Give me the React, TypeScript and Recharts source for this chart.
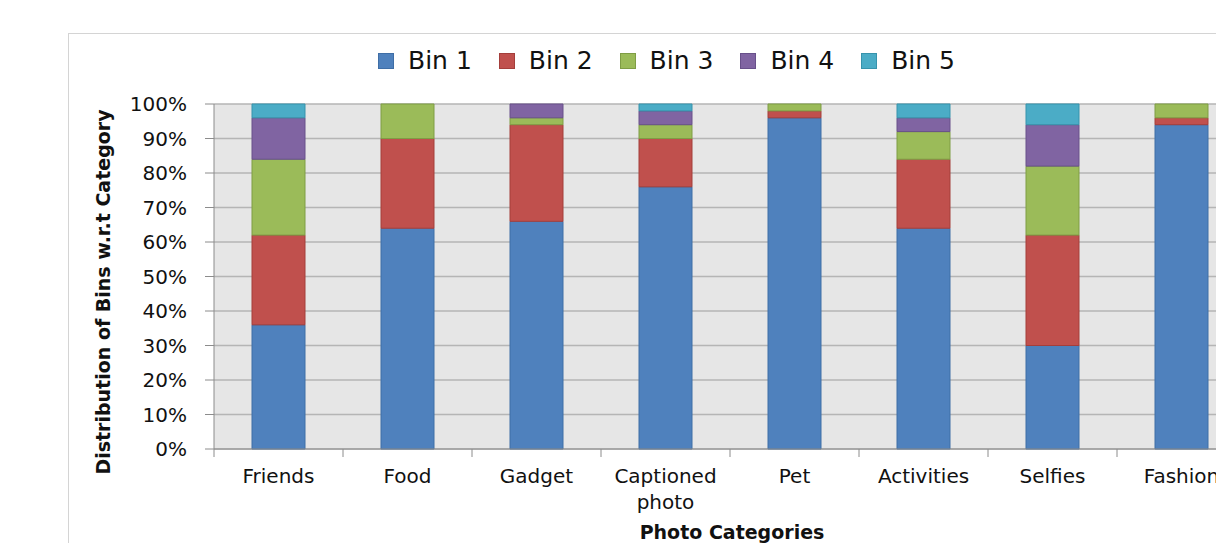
import { BarChart, Bar, XAxis, YAxis, CartesianGrid, Label } from 'recharts'

const categories = ['Friends', 'Food', 'Gadget', 'Captioned photo', 'Pet', 'Activities', 'Selfies', 'Fashion']
const bin1 = [36, 64, 66, 76, 96, 64, 30, 94]
const bin2 = [26, 26, 28, 14, 2, 20, 32, 2]
const bin3 = [22, 10, 2, 4, 2, 8, 20, 4]
const bin4 = [12, 0, 4, 4, 0, 4, 12, 0]
const bin5 = [4, 0, 0, 2, 0, 4, 6, 0]
const yTicks = [0, 10, 20, 30, 40, 50, 60, 70, 80, 90, 100]

const series = [
  { key: 'bin1', name: 'Bin 1', values: bin1, fill: '#4f81bd', stroke: '#3f6ea6' },
  { key: 'bin2', name: 'Bin 2', values: bin2, fill: '#c0504d', stroke: '#a43e3b' },
  { key: 'bin3', name: 'Bin 3', values: bin3, fill: '#9bbb59', stroke: '#7f9d45' },
  { key: 'bin4', name: 'Bin 4', values: bin4, fill: '#8064a2', stroke: '#68508a' },
  { key: 'bin5', name: 'Bin 5', values: bin5, fill: '#4bacc6', stroke: '#3793ac' },
]

const data = categories.map((cat, i) => {
  const row: Record<string, string | number> = { cat }
  series.forEach((s) => {
    row[s.key] = s.values[i]
  })
  return row
})

// chart box, wider than the page so the last category runs off the edge
const W = 1300
const H = 600
const PLOT_LEFT = 214
const PLOT_RIGHT = 1246
const PLOT_TOP = 104
const PLOT_BOTTOM = 449
const Y_AXIS_W = 120
const X_AXIS_H = 60
const BAND = (PLOT_RIGHT - PLOT_LEFT) / categories.length

const FONT = '"DejaVu Sans", sans-serif'
const AXIS_GRAY = '#8c8c8c'

// long category names go on two lines
function splitLabel(label: string): string[] {
  return label.length > 12 ? label.split(' ') : [label]
}

function CategoryTick(props: any) {
  const { x, y, payload } = props
  const edge = x - BAND / 2
  const lines = splitLabel(String(payload.value))
  return (
    <g>
      <line x1={edge} x2={edge} y1={y} y2={y + 8} stroke={AXIS_GRAY} strokeWidth={1} />
      <text x={x} y={y + 34} textAnchor="middle" fontSize={20} fontFamily={FONT} fill="#111">
        {lines.map((ln, i) => (
          <tspan key={ln} x={x} dy={i === 0 ? 0 : 26}>
            {ln}
          </tspan>
        ))}
      </text>
    </g>
  )
}

function BinLegend() {
  return (
    <div
      style={{
        position: 'absolute',
        left: 378,
        top: 46,
        display: 'flex',
        alignItems: 'center',
        fontFamily: FONT,
        fontSize: 25,
        color: '#111',
        whiteSpace: 'nowrap',
      }}
    >
      {series.map((s) => (
        <div key={s.key} style={{ display: 'flex', alignItems: 'center', marginRight: 27 }}>
          <span
            style={{
              display: 'inline-block',
              width: 16,
              height: 16,
              background: s.fill,
              border: `1px solid ${s.stroke}`,
              boxSizing: 'border-box',
              marginRight: 14,
            }}
          />
          <span style={{ lineHeight: '30px' }}>{s.name}</span>
        </div>
      ))}
    </div>
  )
}

export default function App() {
  return (
    <div style={{ position: 'fixed', left: 0, top: 0, width: 1216, height: 543, overflow: 'hidden', background: '#fff' }}>
      <div
        style={{
          position: 'absolute',
          left: 68,
          top: 33,
          width: 1400,
          height: 700,
          border: '1px solid #d4d4d4',
        }}
      />
      <div style={{ position: 'absolute', left: 0, top: 0 }}>
        <BarChart
          width={W}
          height={H}
          data={data}
          barSize={53}
          margin={{
            top: PLOT_TOP,
            right: W - PLOT_RIGHT,
            bottom: H - PLOT_BOTTOM - X_AXIS_H,
            left: PLOT_LEFT - Y_AXIS_W,
          }}
        >
          <CartesianGrid vertical={false} fill="#e6e6e6" stroke="#b5b5b5" strokeWidth={1.5} />
          <XAxis
            dataKey="cat"
            height={X_AXIS_H}
            interval={0}
            tickSize={0}
            tickMargin={0}
            tickLine={false}
            axisLine={{ stroke: AXIS_GRAY }}
            tick={<CategoryTick />}
          >
            <Label
              content={() => (
                <text x={732} y={539} textAnchor="middle" fontFamily={FONT} fontWeight="bold" fontSize={19} fill="#111">
                  Photo Categories
                </text>
              )}
            />
          </XAxis>
          <YAxis
            width={Y_AXIS_W}
            domain={[0, 100]}
            ticks={yTicks}
            interval={0}
            tickFormatter={(v: number) => `${v}%`}
            tickSize={9}
            tickMargin={18}
            axisLine={{ stroke: AXIS_GRAY }}
            tickLine={{ stroke: AXIS_GRAY }}
            tick={{ fill: '#111', fontSize: 20, fontFamily: FONT }}
          >
            <Label
              content={() => (
                <text
                  x={103}
                  y={292}
                  transform="rotate(-90 103 292)"
                  textAnchor="middle"
                  dominantBaseline="central"
                  fontFamily={FONT}
                  fontWeight="bold"
                  fontSize={19}
                  fill="#111"
                >
                  Distribution of Bins w.r.t Category
                </text>
              )}
            />
          </YAxis>
          {series.map((s) => (
            <Bar
              key={s.key}
              dataKey={s.key}
              name={s.name}
              stackId="bins"
              fill={s.fill}
              stroke={s.stroke}
              strokeWidth={1}
              isAnimationActive={false}
            />
          ))}
        </BarChart>
      </div>
      <BinLegend />
    </div>
  )
}
